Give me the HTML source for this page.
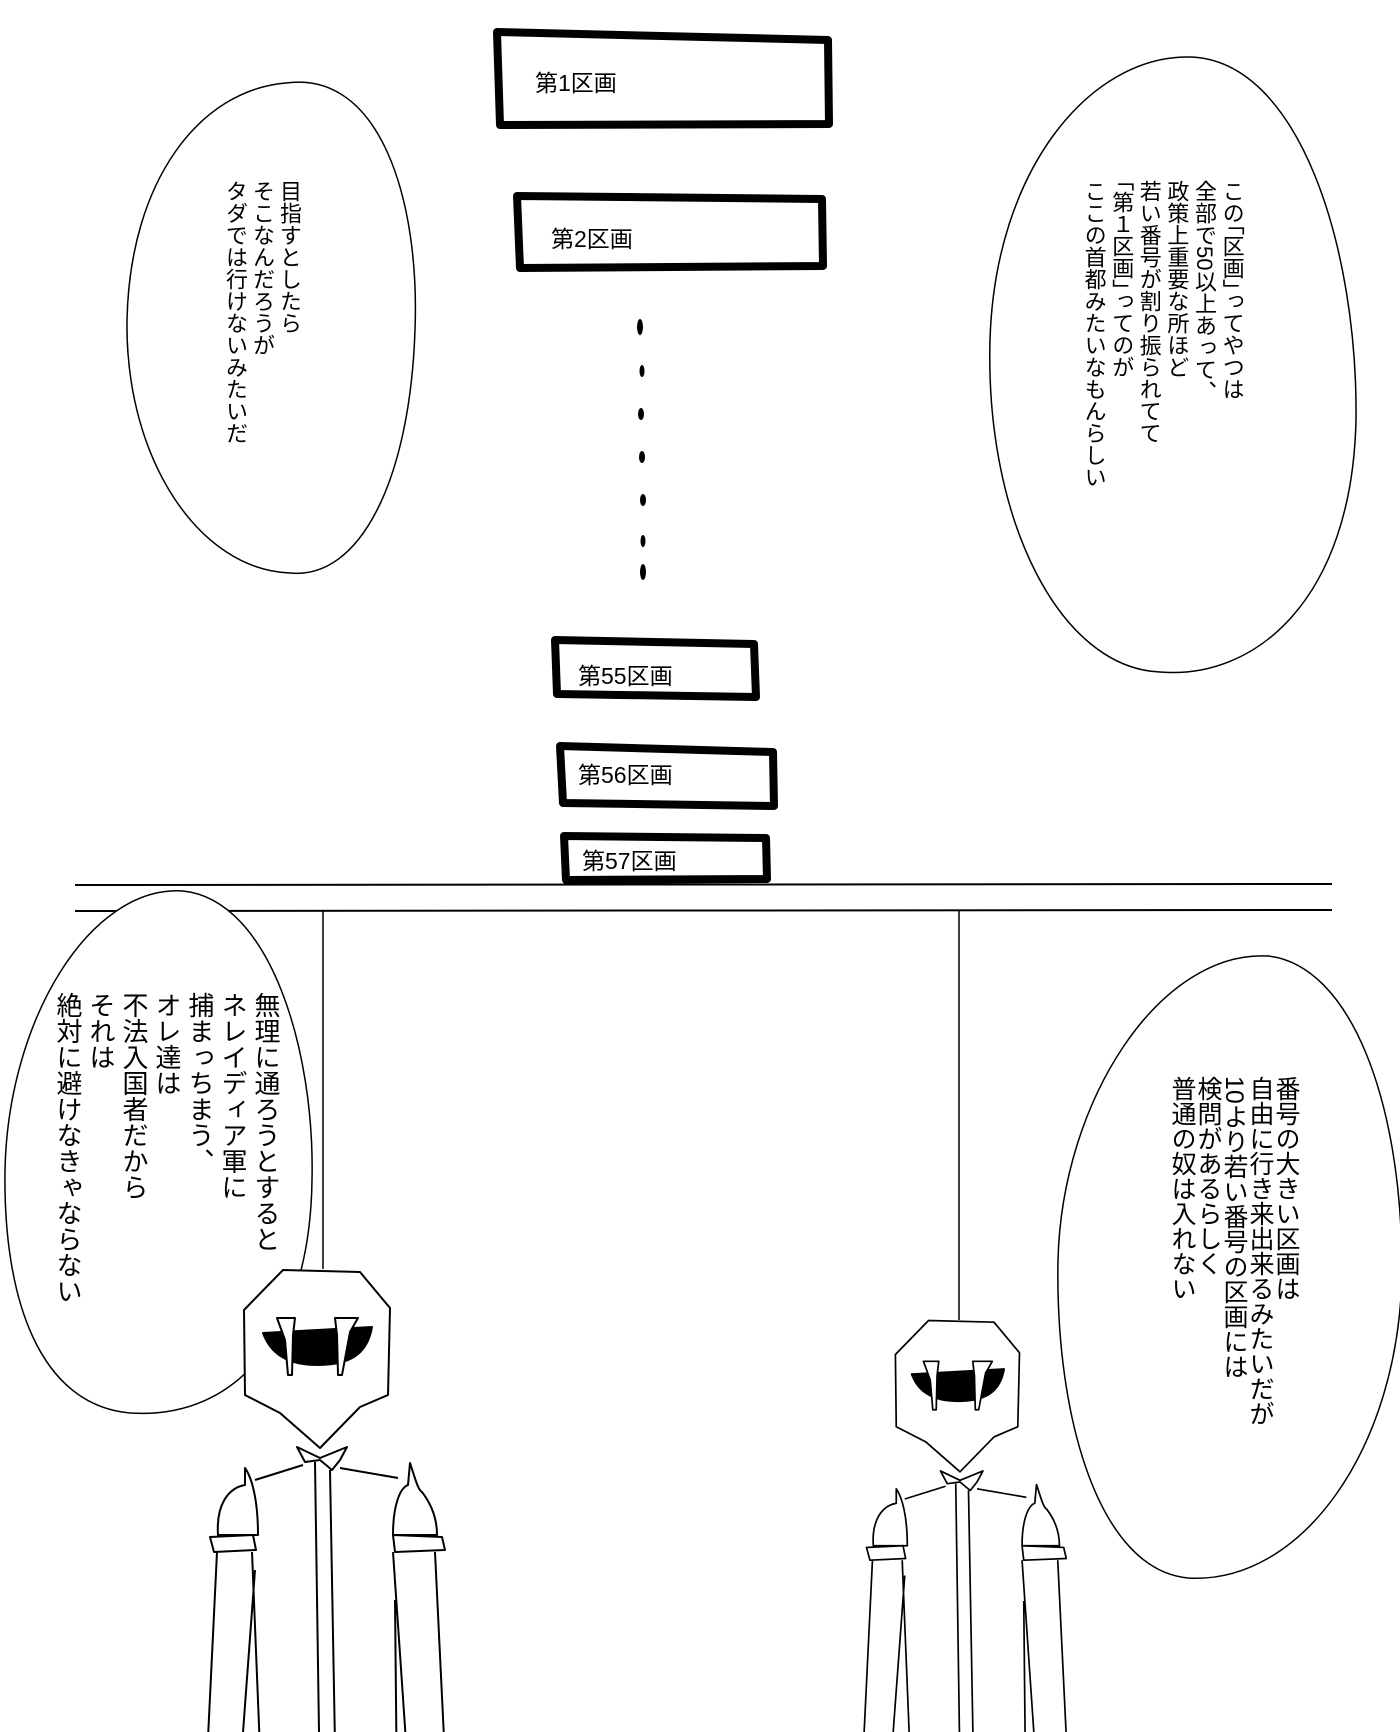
<!DOCTYPE html>
<html><head><meta charset="utf-8"><style>
html,body{margin:0;padding:0;background:#fff}
#c{position:relative;width:1400px;height:1732px;overflow:hidden;background:#fff}
.v{position:absolute;writing-mode:vertical-rl;font-family:"Liberation Sans","Noto Sans CJK JP",sans-serif;color:#000;white-space:nowrap}
.b{font-feature-settings:"vhal" 1,"halt" 1}
.l{position:absolute;font-family:"Liberation Sans","Noto Sans CJK JP",sans-serif;font-size:23px;color:#000;white-space:nowrap}
svg{position:absolute;left:0;top:0}
</style></head><body><div id="c">
<svg width="1400" height="1732" viewBox="0 0 1400 1732" fill="none" stroke="#000">
<g stroke-width="8" stroke-linejoin="round">
<path d="M497,32 L828,40 L829,124 L500,125 Z"/>
<path d="M517,196 L822,199 L823,266 L520,268 Z"/>
<path d="M555,640 L754,644 L756,697 L557,694 Z"/>
<path d="M560,746 L773,752 L774,806 L563,803 Z"/>
<path d="M564,836 L766,838 L767,879 L566,880 Z"/>
</g>
<g fill="#000" stroke="none">
<ellipse cx="640" cy="327" rx="3" ry="8"/>
<ellipse cx="642" cy="371" rx="2.5" ry="6"/>
<ellipse cx="641" cy="414" rx="3" ry="6"/>
<ellipse cx="642" cy="457" rx="3" ry="6"/>
<ellipse cx="643" cy="500" rx="3" ry="6"/>
<ellipse cx="643" cy="541" rx="2.5" ry="6"/>
<ellipse cx="643" cy="572" rx="3" ry="8"/>
</g>
<g stroke-width="2">
<line x1="75" y1="885" x2="1332" y2="884"/>
<line x1="75" y1="911" x2="1332" y2="910"/>
</g>
<g stroke-width="1.5">
<line x1="323" y1="911" x2="323" y2="1269"/>
<line x1="959" y1="911" x2="959" y2="1320"/>
</g>
<g stroke-width="1.5" fill="#fff">
<path d="M286,83 C380,70 420,200 415,330 C410,480 360,580 290,573 C200,570 125,460 127,320 C130,180 200,90 286,83 Z"/>
<path d="M1190,57 C1300,60 1358,250 1356,420 C1352,600 1255,680 1160,672 C1060,668 985,520 990,340 C995,170 1090,55 1190,57 Z"/>
<path d="M183,891 C270,900 315,1050 312,1180 C310,1330 240,1420 130,1413 C40,1405 3,1300 5,1170 C8,1020 90,885 183,891 Z"/>
<path d="M1268,956 C1350,965 1402,1100 1402,1270 C1400,1450 1300,1585 1188,1578 C1100,1570 1055,1420 1058,1260 C1062,1100 1160,950 1268,956 Z"/>
</g>
<defs>
<g id="fig" stroke-width="2" fill="#fff" stroke-linejoin="round">
<path d="M283,1270 L360,1272 L390,1308 L388,1395 L360,1407 L320,1448 L280,1413 L245,1395 L244,1310 Z"/>
<path d="M263,1333 L372,1327 C368,1350 355,1365 318,1365 C285,1365 270,1352 263,1333 Z" fill="#000"/>
<path d="M277,1318 L295,1318 L293,1335 L292,1375 L288,1375 L285,1340 Z"/>
<path d="M335,1318 L358,1318 L350,1332 L342,1375 L338,1375 L337,1335 Z"/>
<path d="M297,1447 L320,1458 L347,1447 L340,1460 L332,1470 L320,1460 L305,1462 Z"/>
<path d="M315,1462 L320,1800 M330,1470 L336,1800"/>
<path d="M303,1465 L255,1480"/>
<path d="M340,1468 L398,1478"/>
<path d="M218,1535 C216,1505 228,1488 245,1485 L245,1468 C252,1478 258,1500 258,1535 Z"/>
<path d="M210,1537 L253,1535 L256,1550 L214,1552 Z"/>
<path d="M217,1552 L205,1800 M252,1552 L262,1800 M255,1570 L238,1800"/>
<path d="M393,1535 C393,1505 400,1488 408,1485 L410,1463 C415,1478 418,1490 422,1492 C432,1505 437,1520 437,1535 Z"/>
<path d="M393,1535 L442,1537 L445,1550 L395,1552 Z"/>
<path d="M435,1552 L447,1800 M393,1552 L410,1800 M395,1600 L397,1800"/>
</g>
</defs>
<use href="#fig"/>
<use href="#fig" transform="translate(688,241) scale(0.85)"/>
</svg>
<div class="l" style="left:535px;top:64px">第1区画</div>
<div class="l" style="left:551px;top:220px">第2区画</div>
<div class="l" style="left:578px;top:657px">第55区画</div>
<div class="l" style="left:578px;top:756px">第56区画</div>
<div class="l" style="left:582px;top:842px">第57区画</div>
<div class="v" style="left:222px;top:180px;font-size:22px;line-height:27px">目指すとしたら<br>そこなんだろうが<br>タダでは行けないみたいだ</div>
<div class="v" style="left:1080px;top:180px;font-size:22px;line-height:27.6px">この<span class="b">「</span>区画<span class="b">」</span>ってやつは<br>全部で50以上あって、<br>政策上重要な所ほど<br>若い番号が割り振られてて<br><span class="b">「</span>第１区画<span class="b">」</span>ってのが<br>ここの首都みたいなもんらしい</div>
<div class="v" style="left:51px;top:992px;font-size:26px;line-height:33px">無理に通ろうとすると<br>ネレイディア軍に<br>捕まっちまう、<br>オレ達は<br>不法入国者だから<br>それは<br>絶対に避けなきゃならない</div>
<div class="v" style="left:1169px;top:1076px;font-size:25px;line-height:26px">番号の大きい区画は<br>自由に行き来出来るみたいだが<br>10より若い番号の区画には<br>検問があるらしく<br>普通の奴は入れない</div>
</div></body></html>
